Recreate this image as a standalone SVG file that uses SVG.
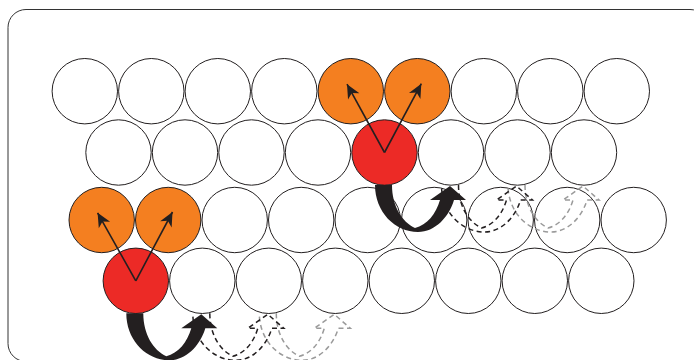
<svg xmlns="http://www.w3.org/2000/svg" xmlns:xlink="http://www.w3.org/1999/xlink" width="694" height="360" viewBox="0 0 694 360">
<style>
.c{fill:#fff;stroke:#231f20;stroke-width:1}
.o{fill:#f47f20;stroke:#231f20;stroke-width:1}
.r{fill:#ec2a26;stroke:#231f20;stroke-width:1}
.thin{stroke:#231f20;stroke-width:1.6;fill:none;marker-end:url(#ah)}
.solid{fill:#231f20;stroke:none}
.dk{fill:none;stroke:#231f20;stroke-width:1.5;stroke-dasharray:5 3.5}
.gr{fill:none;stroke:#9a9a9a;stroke-width:1.5;stroke-dasharray:5 3.5}
</style>
<defs>
<marker id="ah" markerUnits="userSpaceOnUse" viewBox="-15 -8 16 16" markerWidth="16" markerHeight="16" refX="0" refY="0" orient="auto">
<path d="M0,0 L-14,-6.5 L-10,0 L-14,6.5 Z" fill="#231f20"/>
</marker>
<path id="hop" d="M392,185 C392,206 402,222 415,228 C427,225 436,214 440,200 L430,200 L450,186 L466,200 L454,200 C449,217 435,232 418,232 C395,232 375,212 375,185"/>
</defs>
<rect x="8" y="9.5" width="700" height="352" rx="18" fill="#fff" stroke="#333" stroke-width="1"/>
<g id="row1">
<g id="n1-1"><circle class="c" cx="84.8" cy="91.2" r="32.7"/></g>
<g id="n1-2"><circle class="c" cx="151.3" cy="91.2" r="32.7"/></g>
<g id="n1-3"><circle class="c" cx="217.8" cy="91.2" r="32.7"/></g>
<g id="n1-4"><circle class="c" cx="284.3" cy="91.2" r="32.7"/></g>
<g id="n1-5"><circle class="o" cx="350.8" cy="91.2" r="32.7"/></g>
<g id="n1-6"><circle class="o" cx="417.3" cy="91.2" r="32.7"/></g>
<g id="n1-7"><circle class="c" cx="483.8" cy="91.2" r="32.7"/></g>
<g id="n1-8"><circle class="c" cx="550.3" cy="91.2" r="32.7"/></g>
<g id="n1-9"><circle class="c" cx="616.8" cy="91.2" r="32.7"/></g>
</g>
<g id="row2">
<g id="n2-1"><circle class="c" cx="118.5" cy="152.5" r="32.7"/></g>
<g id="n2-2"><circle class="c" cx="185" cy="152.5" r="32.7"/></g>
<g id="n2-3"><circle class="c" cx="251.5" cy="152.5" r="32.7"/></g>
<g id="n2-4"><circle class="c" cx="318" cy="152.5" r="32.7"/></g>
<g id="n2-5"><circle class="r" cx="384.5" cy="152.5" r="32.7"/></g>
<g id="n2-6"><circle class="c" cx="451" cy="152.5" r="32.7"/></g>
<g id="n2-7"><circle class="c" cx="517.5" cy="152.5" r="32.7"/></g>
<g id="n2-8"><circle class="c" cx="584" cy="152.5" r="32.7"/></g>
</g>
<g id="row3">
<g id="n3-1"><circle class="o" cx="101.7" cy="220" r="32.7"/></g>
<g id="n3-2"><circle class="o" cx="168.2" cy="220" r="32.7"/></g>
<g id="n3-3"><circle class="c" cx="234.7" cy="220" r="32.7"/></g>
<g id="n3-4"><circle class="c" cx="301.2" cy="220" r="32.7"/></g>
<g id="n3-5"><circle class="c" cx="367.7" cy="220" r="32.7"/></g>
<g id="n3-6"><circle class="c" cx="434.2" cy="220" r="32.7"/></g>
<g id="n3-7"><circle class="c" cx="500.7" cy="220" r="32.7"/></g>
<g id="n3-8"><circle class="c" cx="567.2" cy="220" r="32.7"/></g>
<g id="n3-9"><circle class="c" cx="633.7" cy="220" r="32.7"/></g>
</g>
<g id="row4">
<g id="n4-1"><circle class="r" cx="135.8" cy="280.8" r="32.7"/></g>
<g id="n4-2"><circle class="c" cx="202.3" cy="280.8" r="32.7"/></g>
<g id="n4-3"><circle class="c" cx="268.8" cy="280.8" r="32.7"/></g>
<g id="n4-4"><circle class="c" cx="335.3" cy="280.8" r="32.7"/></g>
<g id="n4-5"><circle class="c" cx="401.8" cy="280.8" r="32.7"/></g>
<g id="n4-6"><circle class="c" cx="468.3" cy="280.8" r="32.7"/></g>
<g id="n4-7"><circle class="c" cx="534.8" cy="280.8" r="32.7"/></g>
<g id="n4-8"><circle class="c" cx="601.3" cy="280.8" r="32.7"/></g>
</g>
<g id="connectors">
<line class="thin" x1="384.5" y1="152.5" x2="347" y2="84.2"/>
<line class="thin" x1="384.5" y1="152.5" x2="421.3" y2="83.7"/>
<line class="thin" x1="135.8" y1="280.8" x2="97.6" y2="212.8"/>
<line class="thin" x1="135.8" y1="280.8" x2="172.5" y2="212"/>
<use xlink:href="#hop" class="gr" transform="translate(133,0)"/>
<use xlink:href="#hop" class="dk" transform="translate(66.5,0)"/>
<use xlink:href="#hop" class="solid"/>
<g transform="translate(-248.7,128.3)">
<use xlink:href="#hop" class="gr" transform="translate(133,0)"/>
<use xlink:href="#hop" class="dk" transform="translate(66.5,0)"/>
<use xlink:href="#hop" class="solid"/>
</g>
</g>
</svg>
